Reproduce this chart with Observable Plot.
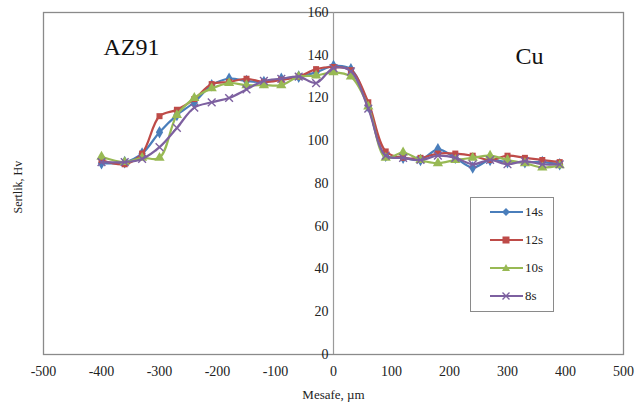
<!DOCTYPE html>
<html>
<head>
<meta charset="utf-8">
<script src="https://cdn.jsdelivr.net/npm/d3@7"></script>
<script src="https://cdn.jsdelivr.net/npm/@observablehq/plot@0.6"></script>
<style>
  html, body { margin: 0; padding: 0; background: #fff; }
  #wrap { position: relative; width: 635px; height: 412px; overflow: hidden; }
  #legend { position: absolute; left: 470px; top: 197px; width: 84px; height: 115px;
            border: 1px solid #8a8a8a; background: #fff; box-sizing: border-box; }
  .item { position: absolute; left: 19px; height: 12px; display: flex; align-items: center;
          font-family: "Liberation Serif", serif; font-size: 13px; color: #222; }
  .item svg { display: block; margin-right: 2px; }
</style>
</head>
<body>
<div id="wrap"><div id="legend"></div></div>
<script>
const distance = [-400,-360,-330,-300,-270,-240,-210,-180,-150,-120,-90,-60,-30,0,30,60,90,120,150,180,210,240,270,300,330,360,390];
const hv14 = [89.5,90,94,104,112,118,126,129,128,127.5,129,130,132,135,133.5,116,93,92,91,96,92,87.5,91,90,90,90,89];
const hv12 = [91,89,94,111.5,114.5,119.5,126.5,127.5,129,127.5,128.5,130,133.5,134.5,133,118,95,92,92,94,94,93,91,93,92,91,90];
const hv10 = [92.5,90,92,92,112,120,124.5,127,126,126,126,130,130.5,132,130,116,92,94.5,91,89.5,91,92,93,91,89.5,87.5,88.5];
const hv8  = [90,90,91.5,97,106,115.5,118,120,124,128,129,130,127,134,132.5,115,93,92,91,93,92,89,91,89,90.5,89,89];

const seriesNames = ["14s", "12s", "10s", "8s"];
const seriesValues = [hv14, hv12, hv10, hv8];
const seriesColors = ["#4a7ebb", "#be4b48", "#98b954", "#7d60a0"];
const seriesSymbols = ["diamond", "square", "triangle", "times"];

const xTicks = [-500,-400,-300,-200,-100,0,100,200,300,400,500];
const yTicks = [0,20,40,60,80,100,120,140,160];
const regionLabels = ["AZ91", "Cu"];
const xTitle = "Mesafe, µm";
const yTitle = "Sertlik, Hv";

const serif = "Liberation Serif";

const rows = seriesNames.flatMap((s, i) =>
  distance.map((d, j) => ({series: s, x: d, y: seriesValues[i][j]})));

const seriesMarks = seriesNames.flatMap((s, i) => {
  const data = rows.filter(r => r.series === s);
  const isStroke = seriesSymbols[i] === "times";
  return [
    Plot.line(data, {x: "x", y: "y", stroke: seriesColors[i], strokeWidth: 2.2, curve: "catmull-rom"}),
    Plot.dot(data, isStroke
      ? {x: "x", y: "y", symbol: seriesSymbols[i], r: 3.6, stroke: seriesColors[i], strokeWidth: 1.4, fill: "none"}
      : {x: "x", y: "y", symbol: seriesSymbols[i], r: seriesSymbols[i] === "square" ? 3.4 : 3.8, fill: seriesColors[i], stroke: "none"})
  ];
});

const chart = Plot.plot({
  width: 635,
  height: 412,
  marginLeft: 43,
  marginRight: 12,
  marginTop: 12,
  marginBottom: 58,
  style: {background: "transparent"},
  x: {domain: [-500, 500], axis: null},
  y: {domain: [0, 160], axis: null},
  marks: [
    Plot.frame({stroke: "#8a8a8a", strokeWidth: 1.3}),
    Plot.ruleX([0], {stroke: "#9a9a9a", strokeWidth: 1.2}),
    Plot.axisX({ticks: xTicks, tickSize: 0, tickPadding: 12, fontSize: 14, fill: "#222",
                tickFormat: d => String(d), label: null, fontFamily: serif}),
    Plot.text(yTicks, {x: 0, y: d => d, text: d => String(d), textAnchor: "end", dx: -5,
                       fontSize: 14, fill: "#222", fontFamily: serif}),
    Plot.text([xTitle], {frameAnchor: "bottom", dy: 44, fontSize: 13, fill: "#222", fontFamily: serif}),
    Plot.text([yTitle], {frameAnchor: "left", dx: -25, dy: 30, rotate: -90, fontSize: 12, fill: "#222", fontFamily: serif}),
    Plot.text([regionLabels[0]], {frameAnchor: "top-left", dx: 88, dy: 35, textAnchor: "middle", lineAnchor: "middle",
                                  fontSize: 24, fill: "#111", fontFamily: serif}),
    Plot.text([regionLabels[1]], {frameAnchor: "top-right", dx: -94, dy: 44, textAnchor: "middle", lineAnchor: "middle",
                                  fontSize: 24, fill: "#111", fontFamily: serif}),
    ...seriesMarks
  ]
});
const wrap = document.getElementById("wrap");
chart.style.position = "absolute";
chart.style.left = "0";
chart.style.top = "0";
wrap.insertBefore(chart, wrap.firstChild);

// legend
const legend = document.getElementById("legend");
const markerSvg = (sym, c) => {
  const cx = 16, cy = 6;
  if (sym === "diamond") return `<polygon points="${cx},${cy-4} ${cx+4},${cy} ${cx},${cy+4} ${cx-4},${cy}" fill="${c}"/>`;
  if (sym === "square") return `<rect x="${cx-3.5}" y="${cy-3.5}" width="7" height="7" fill="${c}"/>`;
  if (sym === "triangle") return `<polygon points="${cx},${cy-4} ${cx+4},${cy+3} ${cx-4},${cy+3}" fill="${c}"/>`;
  return `<path d="M${cx-3.5},${cy-3.5}L${cx+3.5},${cy+3.5}M${cx-3.5},${cy+3.5}L${cx+3.5},${cy-3.5}" stroke="${c}" stroke-width="1.4"/>`;
};
seriesNames.forEach((s, i) => {
  const div = document.createElement("div");
  div.className = "item";
  div.style.top = (8 + i * 28) + "px";
  div.innerHTML = `<svg width="33" height="12"><line x1="0" x2="33" y1="6" y2="6" stroke="${seriesColors[i]}" stroke-width="2.2"/>${markerSvg(seriesSymbols[i], seriesColors[i])}</svg><span>${s}</span>`;
  legend.appendChild(div);
});
</script>
</body>
</html>
